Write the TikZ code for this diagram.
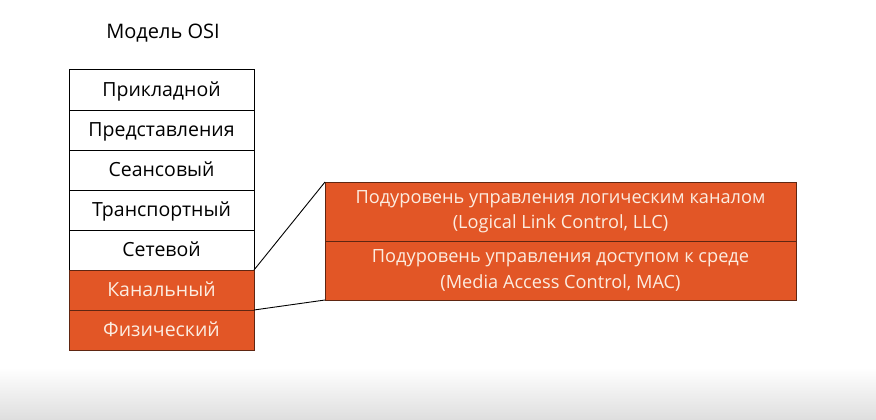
\documentclass[tikz,border=0pt]{standalone}
\usepackage{fontspec}
\setmainfont{Open Sans}
\usetikzlibrary{positioning}
\definecolor{osiorange}{RGB}{226,86,38}
\definecolor{osiedge}{RGB}{95,38,18}
\definecolor{ositext}{RGB}{252,236,224}

\begin{document}
\begin{tikzpicture}[
  x=1pt, y=-1pt,
  node distance=0pt,
  every node/.style={font=\fontsize{19.5}{23}\selectfont},
  layer/.style={draw, line width=1pt, minimum width=185pt, minimum height=40pt, inner sep=0pt, outer sep=0pt, fill=white, text depth=1pt},
  hot/.style={layer, fill=osiorange, draw=osiedge, text=ositext},
  sub/.style={draw=osiedge, line width=1pt, fill=osiorange, text=ositext, minimum width=471pt, minimum height=59pt, align=center, inner sep=0pt, outer sep=0pt, font=\fontsize{18.2}{25.5}\selectfont},
  link/.style={draw, line width=0.9pt}
]
  \useasboundingbox (0,0) rectangle (876,420);
  \fill[top color=white, bottom color=black!13] (0,368) rectangle (876,420);

  \node[font=\fontsize{20}{24}\selectfont] (title) at (163,33) {Модель OSI};

  % стек уровней
  \node[layer] (app) at (161.5,90) {Прикладной};
  \node[layer, below=of app] (pres) {Представления};
  \node[layer, below=of pres] (sess) {Сеансовый};
  \node[layer, below=of sess] (trans) {Транспортный};
  \node[layer, below=of trans] (net) {Сетевой};
  \node[hot, below=of net] (dl) {Канальный};
  \node[hot, below=of dl] (phys) {Физический};

  % подуровни канального
  \node[sub] (llc) at (560.5,211.5) {Подуровень управления логическим каналом\\(Logical Link Control, LLC)};
  \node[sub, below=of llc] (mac) {Подуровень управления доступом к среде\\(Media Access Control, MAC)};

  \draw[link] (dl.north east) -- (llc.north west);
  \draw[link] (dl.south east) -- (mac.south west);
\end{tikzpicture}
\end{document}
